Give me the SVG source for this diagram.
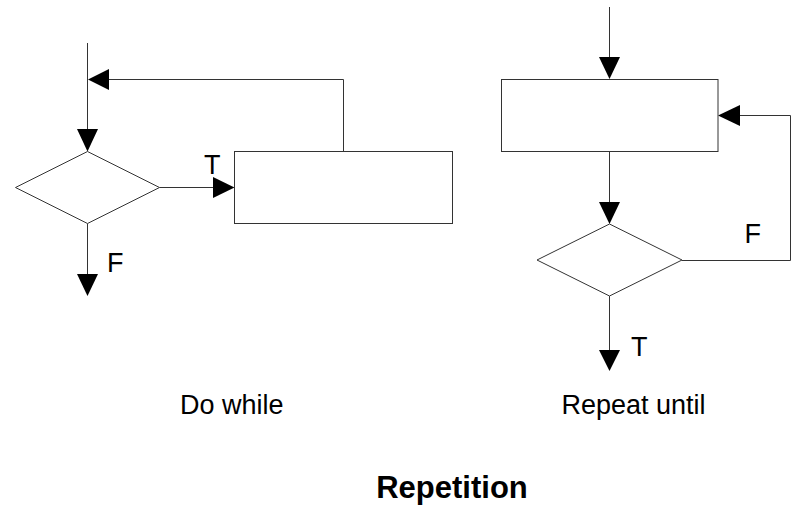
<svg xmlns="http://www.w3.org/2000/svg" width="799" height="509" viewBox="0 0 799 509">
<style>
.ln{fill:none;stroke:#333;stroke-width:1}
.shape{fill:#fff;stroke:#333;stroke-width:1}
.ah{fill:#000;stroke:none}
.lbl{font-family:"Liberation Sans",Arial,sans-serif;font-size:27px;fill:#000}
.title{font-family:"Liberation Sans",Arial,sans-serif;font-size:31px;font-weight:bold;fill:#000}
</style>
<rect width="799" height="509" fill="#fff"/>
<g id="connectors">
<line class="ln" x1="87.5" y1="43" x2="87.5" y2="140"/>
<polygon class="ah" points="77,129 98,129 87.5,151.5"/>
<polyline class="ln" points="343.5,151.5 343.5,79.5 100,79.5"/>
<polygon class="ah" points="109,69 109,90 88,79.5"/>
<line class="ln" x1="159.5" y1="187.5" x2="220" y2="187.5"/>
<polygon class="ah" points="213,177 213,198 234.5,187.5"/>
<line class="ln" x1="87.5" y1="223.5" x2="87.5" y2="280"/>
<polygon class="ah" points="77,274 98,274 87.5,296"/>
<line class="ln" x1="609.5" y1="7" x2="609.5" y2="65"/>
<polygon class="ah" points="599,57 620,57 609.5,79"/>
<line class="ln" x1="609.5" y1="151.5" x2="609.5" y2="210"/>
<polygon class="ah" points="599,202 620,202 609.5,224"/>
<polyline class="ln" points="682,260.5 790.5,260.5 790.5,115.5 730,115.5"/>
<polygon class="ah" points="740,105 740,126 718,115.5"/>
<line class="ln" x1="609.5" y1="296" x2="609.5" y2="358"/>
<polygon class="ah" points="599,350 620,350 609.5,371"/>
</g>
<g id="dw-decision">
<polygon class="shape" points="87.5,151.5 159.5,187.5 87.5,223.5 15.5,187.5"/>
</g>
<g id="dw-process">
<rect class="shape" x="234.5" y="151.5" width="218" height="72"/>
</g>
<g id="ru-process">
<rect class="shape" x="501.5" y="79.5" width="216.5" height="72"/>
</g>
<g id="ru-decision">
<polygon class="shape" points="609.5,224 682,260 609.5,296 537,260"/>
</g>
<g id="labels">
<text class="lbl" x="204" y="174">T</text>
<text class="lbl" x="107" y="272">F</text>
<text class="lbl" x="744.5" y="243">F</text>
<text class="lbl" x="631" y="356">T</text>
<text class="lbl" x="231.7" y="414.3" text-anchor="middle">Do while</text>
<text class="lbl" x="633.5" y="414.3" text-anchor="middle">Repeat until</text>
<text class="title" x="452" y="498" text-anchor="middle">Repetition</text>
</g>
</svg>
